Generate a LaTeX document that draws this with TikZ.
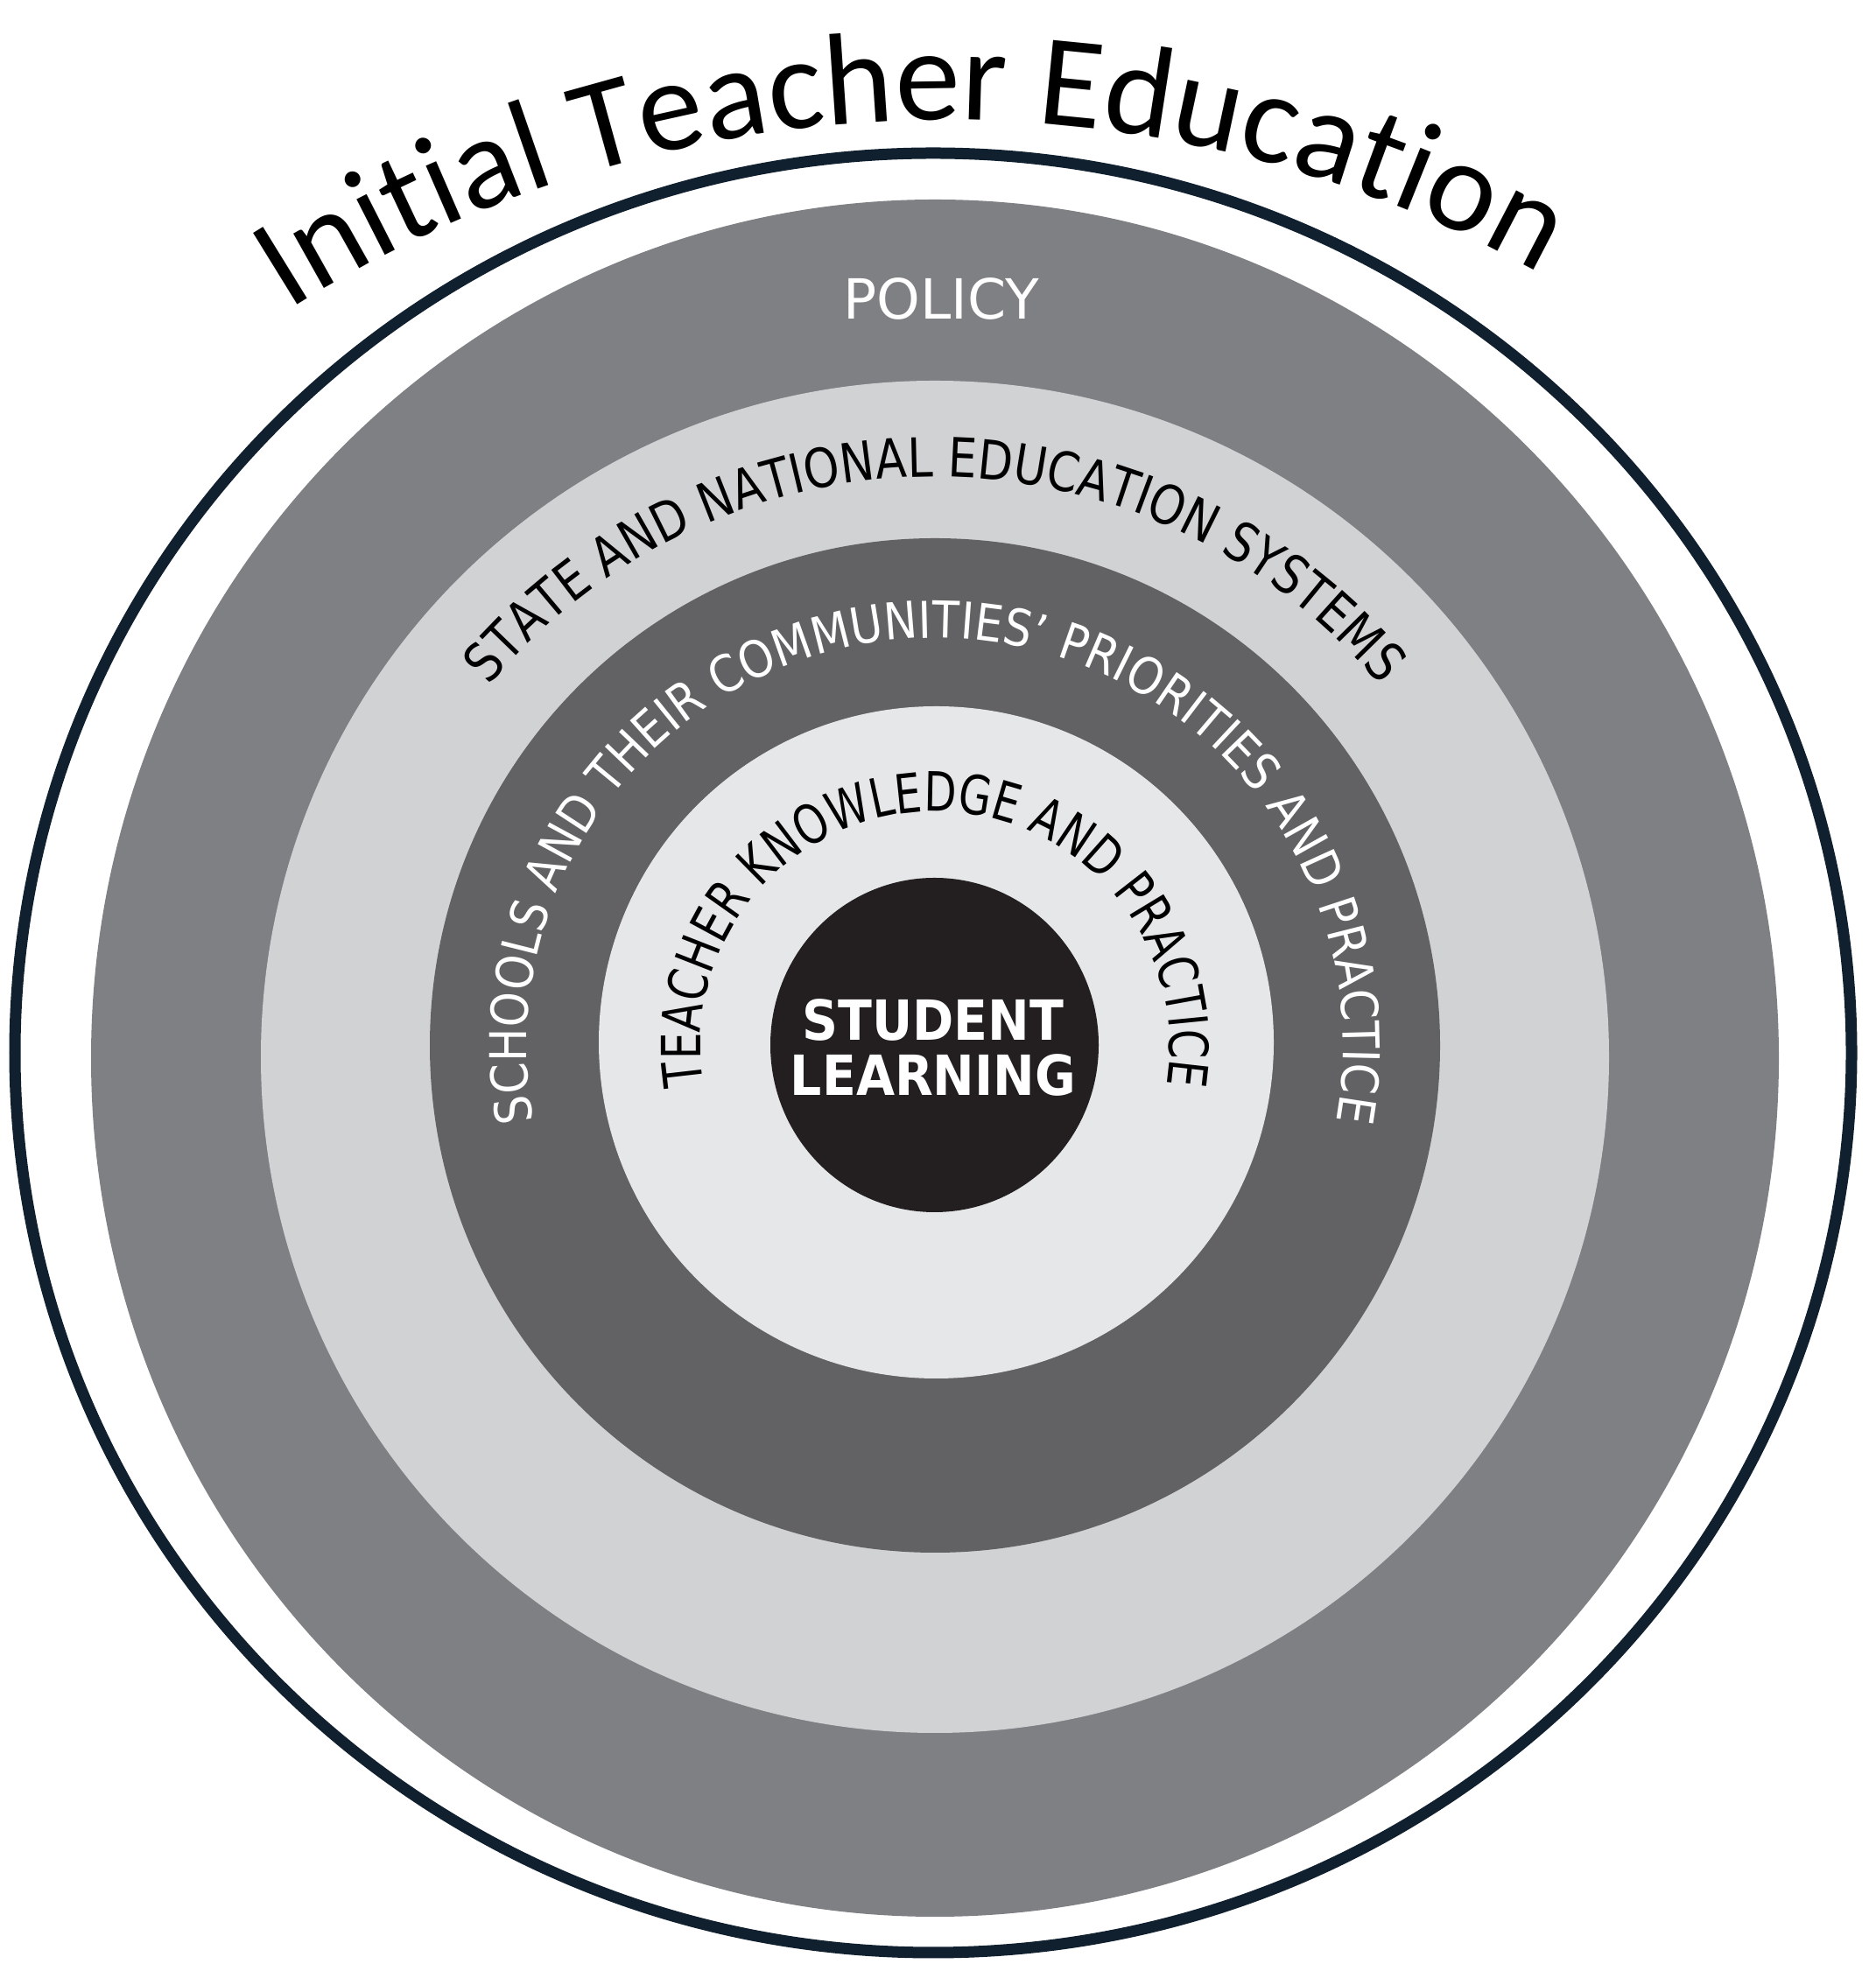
\documentclass[tikz,border=0pt]{standalone}
\usepackage{fontspec}
\setmainfont{Carlito}
\newfontfamily\policyface{DejaVu Sans}
\newfontfamily\stateface[FakeStretch=0.84]{DejaVu Sans}
\newfontfamily\schoolface[FakeStretch=0.88]{DejaVu Sans}
\newfontfamily\teacherface[FakeStretch=0.78]{DejaVu Sans}
\newfontfamily\coreface[FakeStretch=0.9]{DejaVu Sans}
\usetikzlibrary{decorations.text}

\definecolor{rimline}{HTML}{10202F}
\definecolor{policygray}{HTML}{7F8084}
\definecolor{stategray}{HTML}{D1D2D4}
\definecolor{schoolgray}{HTML}{626264}
\definecolor{teachergray}{HTML}{E6E7E9}
\definecolor{corefill}{HTML}{231F20}

\newcommand{\titlefont}{\fontsize{42.5}{50}\selectfont}
\newcommand{\statefont}{\stateface\fontsize{17.6}{20}\selectfont}
\newcommand{\schoolfont}{\schoolface\fontsize{16.5}{19}\selectfont}
\newcommand{\teacherfont}{\teacherface\fontsize{17.6}{20}\selectfont}

\begin{document}
\begin{tikzpicture}[%
    ringtext/.style 2 args={decorate, decoration={text along path,
        text align=center, text color=#1, text={#2}}}
    ]

    \useasboundingbox (0,0) rectangle (21.43,22.52);

    \draw[rimline, line width=0.13cm] (10.66,10.49) ellipse [x radius=10.49, y radius=10.28];
    \fill[policygray] (10.68,10.43) ellipse [x radius=9.64, y radius=9.81];
    \fill[stategray] (10.68,10.445) ellipse [x radius=7.70, y radius=7.725];
    \fill[schoolgray] (10.68,10.575) ellipse [x radius=5.77, y radius=5.795];
    \fill[teachergray] (10.695,10.61) ellipse [x radius=3.855, y radius=3.84];
    \fill[corefill] (10.675,10.58) ellipse [x radius=1.875, y radius=1.91];

    \path[ringtext={black}{|\titlefont|Initial Teacher Education}]
        (10.80,7.15) ++(136.7:14) arc[start angle=136.7, end angle=46.7, radius=14];
    \path[ringtext={black}{|\statefont|STATE AND NATIONAL EDUCATION SYSTEMS}]
        (10.68,10.45) ++(170:6.62) arc[start angle=170, end angle=10, radius=6.62];
    \path[ringtext={white}{|\schoolfont|SCHOOLS AND THEIR COMMUNITIES’ PRIORITIES AND PRACTICE}]
        (10.68,10.57) ++(240:4.66) arc[start angle=240, end angle=-60, radius=4.66];
    \path[ringtext={black}{|\teacherfont|TEACHER KNOWLEDGE AND PRACTICE}]
        (10.68,10.57) ++(240:2.68) arc[start angle=240, end angle=-60, radius=2.68];

    \node[text=white, font=\policyface\fontsize{18}{20}\selectfont] (policy) at (10.75,19.10) {POLICY};
    \node[text=white, align=center, font=\coreface\bfseries\fontsize{18}{17.9}\selectfont] (learning)
        at (10.66,10.55) {STUDENT\\LEARNING};

\end{tikzpicture}
\end{document}
